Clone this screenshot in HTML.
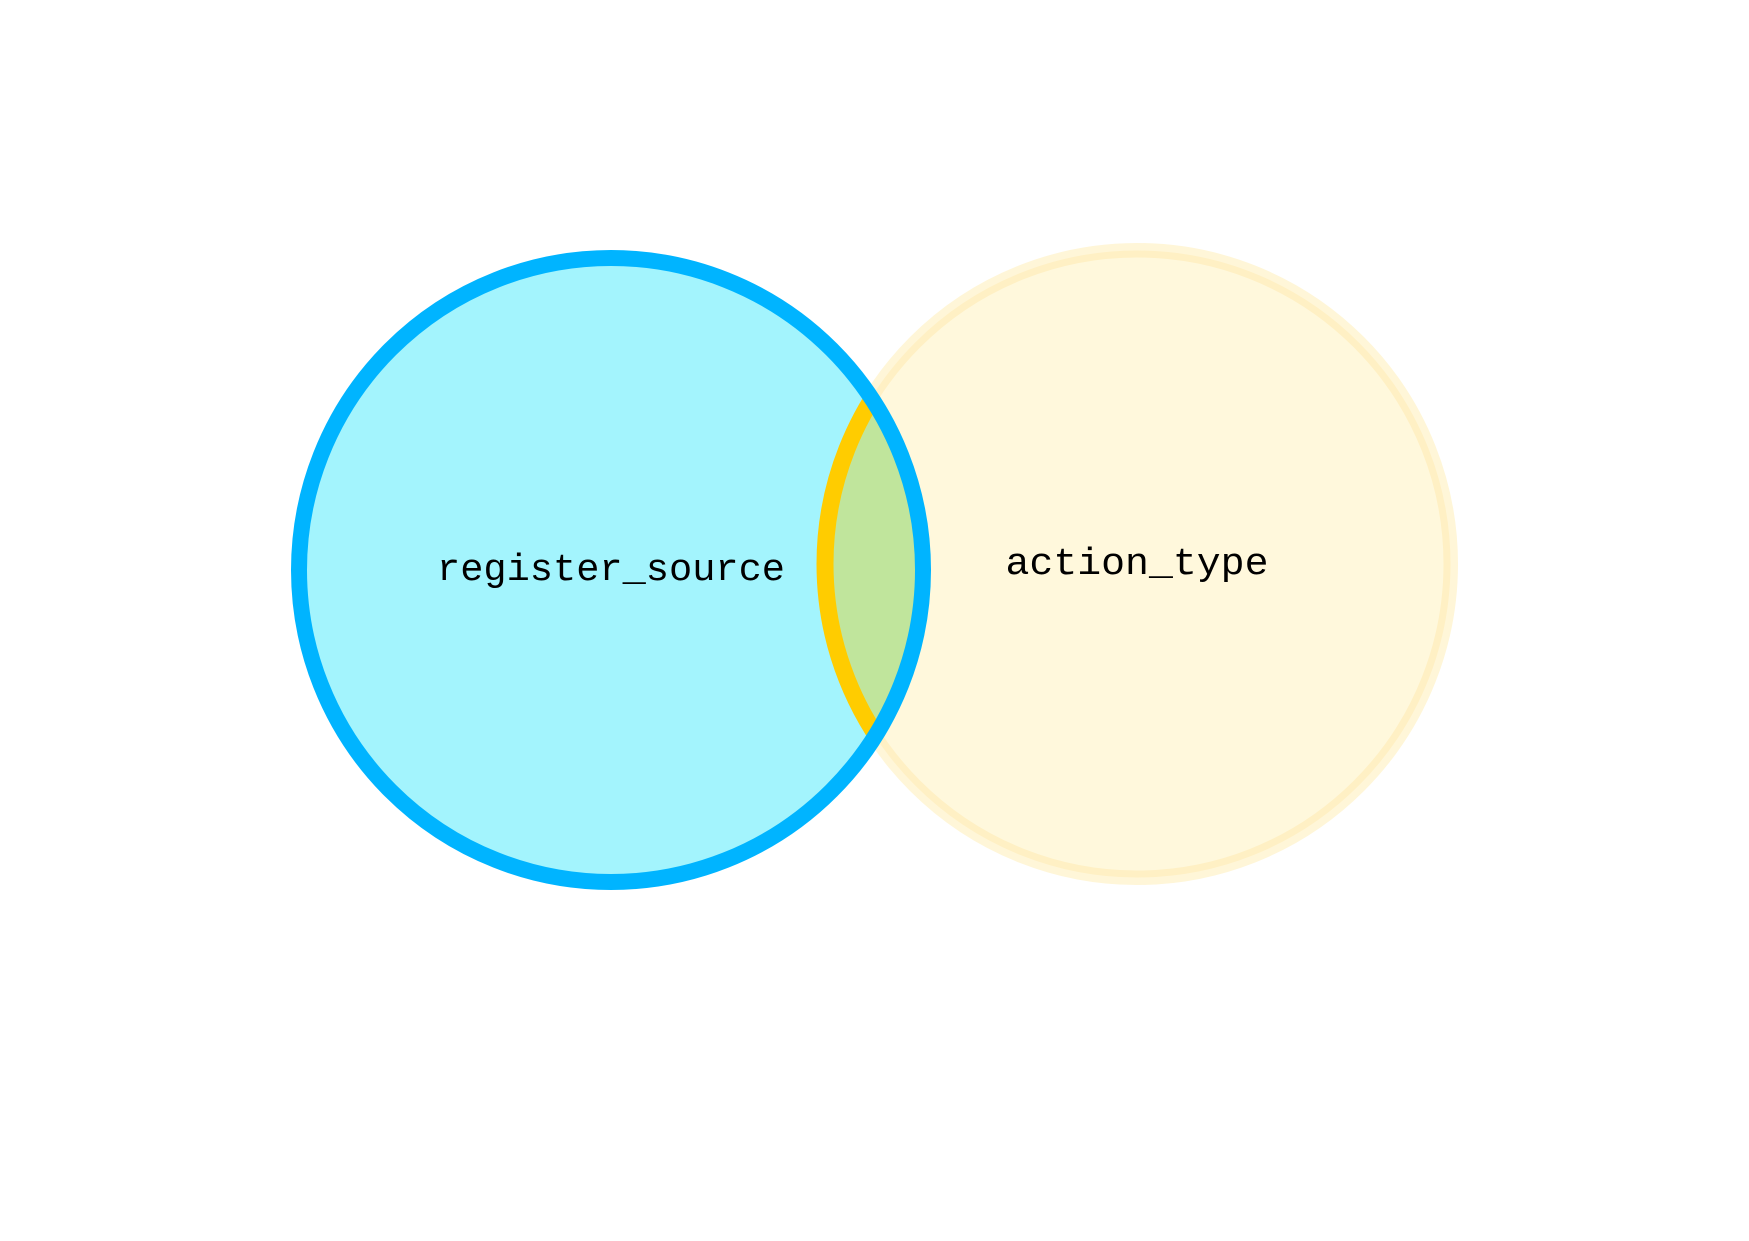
<!DOCTYPE html>
<html><head><style>html,body{margin:0;padding:0;background:#fff}svg{display:block}</style></head>
<body>
<svg width="1749" height="1241" viewBox="0 0 1749 1241" xmlns="http://www.w3.org/2000/svg">
<defs>
<clipPath id="cl"><circle cx="611" cy="570" r="312"/></clipPath>
</defs>
<rect width="1749" height="1241" fill="#fff"/>
<circle cx="1137" cy="564" r="317" fill="#fff8dc" stroke="#fff6d8" stroke-width="8"/>
<circle cx="1137" cy="564" r="310" fill="#fff8dc" stroke="#fff0c4" stroke-width="7"/>
<circle cx="611" cy="570" r="312" fill="#a3f4fd"/>
<g clip-path="url(#cl)">
<circle cx="1137" cy="564" r="312" fill="#c0e59c" stroke="#ffcc00" stroke-width="17"/>
</g>
<circle cx="611" cy="570" r="312" fill="none" stroke="#00b4ff" stroke-width="16"/>
<text x="611" y="580" text-anchor="middle" font-family="Liberation Mono, monospace" font-size="38" textLength="348" lengthAdjust="spacingAndGlyphs" fill="#000">register_source</text>
<text x="1137" y="574" text-anchor="middle" font-family="Liberation Mono, monospace" font-size="38" textLength="263" lengthAdjust="spacingAndGlyphs" fill="#000">action_type</text>
</svg>
</body></html>
